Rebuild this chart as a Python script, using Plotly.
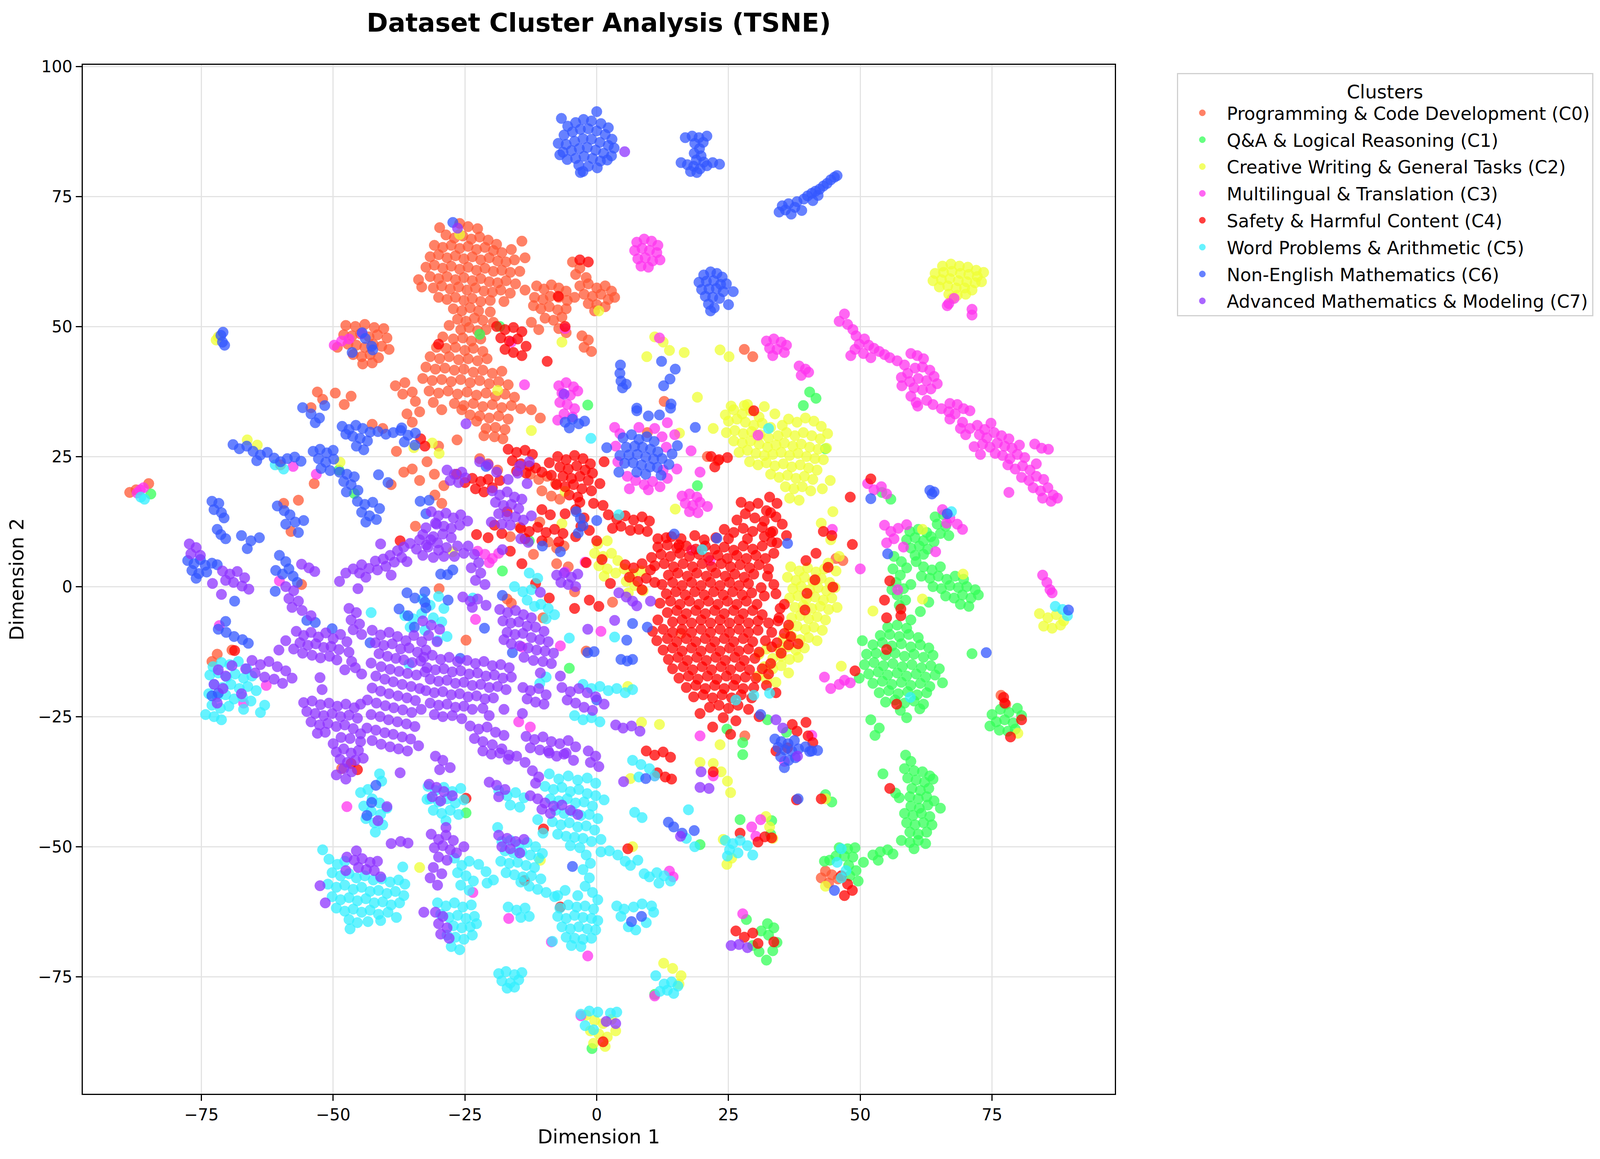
import plotly.graph_objects as go

cluster_names = [
    "Programming & Code Development (C0)",
    "Q&A & Logical Reasoning (C1)",
    "Creative Writing & General Tasks (C2)",
    "Multilingual & Translation (C3)",
    "Safety & Harmful Content (C4)",
    "Word Problems & Arithmetic (C5)",
    "Non-English Mathematics (C6)",
    "Advanced Mathematics & Modeling (C7)",
]
cluster_colors = ["#FF5733", "#33FF57", "#F0FF33", "#FF33F0", "#FF0000", "#33F0FF", "#3357FF", "#8E33FF"]

c0_pts = [
(-26.0,69.8),(-24.4,69.2),(-22.6,68.8),(-28.6,67.6),(-27.0,67.0),(-25.4,67.4),(-23.8,66.8),(-22.2,67.2),(-20.6,66.6),(-19.0,65.8),
(-30.8,65.6),(-29.2,65.2),(-27.6,65.6),(-26.0,65.0),(-24.4,65.4),(-22.8,64.8),(-21.2,65.2),(-19.6,64.6),(-18.0,64.2),(-16.2,64.8),
(-31.6,63.4),(-30.0,63.8),(-28.4,63.2),(-26.8,63.6),(-25.2,63.0),(-23.6,63.4),(-22.0,62.8),(-20.4,63.2),(-18.8,62.6),(-17.2,62.4),(-15.6,62.8),
(-32.4,61.4),(-30.8,61.8),(-29.2,61.2),(-27.6,61.6),(-26.0,61.0),(-24.4,61.4),(-22.8,60.8),(-21.2,61.2),(-19.6,60.6),(-18.0,60.8),(-16.4,60.4),(-14.6,60.6),
(-31.6,59.6),(-30.0,59.2),(-28.4,59.6),(-26.8,59.0),(-25.2,59.4),(-23.6,58.8),(-22.0,59.2),(-20.4,58.6),(-18.8,58.4),(-17.2,58.8),(-15.4,58.2),
(-33.2,57.6),(-31.0,57.4),(-29.4,57.8),(-27.8,57.2),(-26.2,57.6),(-24.6,57.0),(-23.0,57.4),(-21.4,56.8),(-19.8,56.6),(-18.2,57.0),(-16.4,56.4),(-13.6,57.0),
(-30.0,55.6),(-28.4,55.2),(-26.8,55.6),(-25.2,55.0),(-23.6,55.4),(-22.0,54.8),(-20.2,55.0),(-17.6,54.8),(-33.8,59.0),(-13.6,63.2),(-14.2,66.4),(-29.8,69.0),
(-27.2,53.4),(-25.6,53.0),(-24.0,53.6),(-22.4,53.0),(-20.2,52.8),(-26.4,51.4),(-24.8,51.0),(-23.2,51.6),(-21.6,51.2),(-19.6,50.8),
(-28.0,50.2),(-25.8,49.4),(-24.2,49.8),(-22.6,49.2),(-21.0,49.4),(-29.2,48.0),(-27.2,47.6),(-25.4,47.8),(-23.8,47.2),(-22.0,47.6),
(-30.4,46.0),(-28.6,45.8),(-26.8,46.0),(-25.0,45.4),(-23.4,45.8),(-21.6,45.2),(-31.6,44.2),(-29.8,43.8),(-28.0,44.2),(-26.2,43.6),(-24.4,43.8),(-22.6,43.4),(-20.8,43.8),
(-32.4,42.2),(-30.6,41.8),(-28.8,42.0),(-27.0,41.6),(-25.2,41.8),(-23.4,41.2),(-21.6,41.6),(-19.8,41.0),(-18.0,41.4),
(-33.0,40.0),(-31.2,39.6),(-29.4,39.8),(-27.6,39.4),(-25.8,39.8),(-24.0,39.2),(-22.2,39.6),(-20.4,39.0),(-18.6,39.4),(-16.8,38.8),
(-31.8,37.6),(-30.0,37.2),(-28.2,37.6),(-26.4,37.0),(-24.6,37.4),(-22.8,36.8),(-21.0,37.2),(-19.2,36.6),(-17.4,37.0),(-15.6,36.4),
(-27.0,35.2),(-25.2,34.8),(-23.4,35.2),(-21.6,34.6),(-19.8,35.0),(-18.0,34.4),(-16.2,34.8),(-14.4,34.2),(-22.2,32.8),(-20.4,32.4),(-18.6,32.8),(-16.8,32.2),
(-19.2,30.6),(-17.4,30.2),(-21.4,29.0),(-17.8,28.4),(-35.0,37.4),(-36.8,37.0),(-38.2,38.6),(-36.4,39.2),(-34.4,35.6),(-33.6,33.6),(-36.0,33.2),(-35.0,31.6),(-31.0,35.4),(-29.4,34.0),
(-25.6,34.0),(-24.0,33.0),(-22.8,31.8),(-21.0,30.4),(-19.4,28.8),(-26.5,28.2),(-12.4,34.0),(-10.7,32.4),(-22.2,24.6),(-20.6,23.6),(-18.8,22.4),
(-12.6,21.6),(-11.0,20.6),(-9.4,21.2),(-7.8,19.8),(-10.4,18.4),(-8.6,17.4),(-7.0,16.8),(-9.2,8.6),(-7.6,7.4),(-6.2,7.8),(-7.6,4.4),(-5.4,3.8),
(-17.0,-2.4),(-16.2,-3.2),(-24.8,-10.3),(-29.9,-0.4),(-30.7,17.6),(-29.4,16.0),(28.1,-28.7),
(-11.4,57.8),(-10.0,57.2),(-8.6,58.0),(-7.2,57.4),(-5.8,56.8),(-11.8,55.6),(-10.2,55.2),(-8.8,55.8),(-7.2,55.6),(-5.6,55.0),(-4.2,55.6),
(-10.6,53.4),(-9.0,53.8),(-7.4,53.2),(-5.8,53.4),(-9.8,51.6),(-8.2,51.2),(-6.6,51.8),(-7.2,49.6),(-5.8,48.8),(-12.4,50.8),(-11.0,49.4),(-12.0,54.0),
(-3.2,57.8),(-1.6,58.2),(0.0,57.4),(1.6,57.8),(2.8,56.8),(-2.4,56.2),(-0.8,55.8),(0.8,56.2),(2.2,55.2),(-1.6,54.4),(0.0,54.2),(1.6,53.8),(3.4,55.6),(-0.4,53.0),
(-2.8,48.2),(-1.6,47.4),(-2.4,46.0),(-1.0,45.2),(-4.6,62.4),(-3.2,61.2),(-4.0,60.0),(-2.0,59.4),
(-47.6,50.2),(-45.8,50.0),(-44.0,50.4),(-42.2,49.8),(-40.4,49.6),(-48.0,48.4),(-46.4,48.2),(-44.8,48.6),(-43.2,48.0),(-41.6,48.4),(-39.8,47.8),
(-47.2,46.6),(-45.6,46.4),(-44.0,46.0),(-42.4,46.6),(-40.8,46.2),(-39.4,45.6),(-46.2,44.6),(-44.6,44.2),(-43.0,44.6),(-41.4,44.0),(-44.4,42.8),(-42.6,43.0),(-49.2,46.0),
(-49.6,37.2),(-47.9,35.0),(-53.0,37.4),(-54.2,34.4),(-52.0,36.0),(-30.0,27.0),(-35.0,22.6),(-39.0,19.6),(-56.6,16.6),(-56.0,0.4),(-88.6,18.1),(-85.0,19.8),(-87.4,18.6),
(45.4,5.4),(46.7,5.0),(76.7,-20.9),(77.6,-22.6),(43.4,-54.7),(44.6,-55.4),(45.8,-56.2),(44.0,-57.0),(42.6,-56.0),(-60.0,23.4),(-46.6,36.6),(-40.6,30.4),(-42.6,31.2),
(-38.0,26.0),(-36.6,22.0),(-33.6,20.4),(-58.0,10.6),(-72.0,-13.0),(-73.0,-14.4),(-69.2,-12.2),(-59.4,16.0),(-53.6,19.8),(-48.4,-35.0),
(-32.2,24.0),(-30.8,21.6),(-29.0,19.4),(-34.4,11.6),(-10.8,12.4),(-14.6,11.4),(-16.4,9.6),(-12.0,6.2),(-4.2,-1.0),(-10.2,-6.0),(-2.0,-12.4),(3.0,-3.0),(16.0,-9.0),
(21.0,25.0),(23.0,24.2),(28.0,45.6),(29.6,44.2),(12.8,35.6),(9.6,29.6),
]

c1_pts = [
(55.2,-7.8),(57.0,-7.4),(58.8,-8.0),(53.8,-9.4),(55.6,-9.2),(57.4,-9.6),(59.2,-9.2),(61.0,-9.8),(52.4,-11.2),(54.2,-10.8),(56.0,-11.4),(57.8,-11.0),(59.6,-11.6),(61.4,-11.2),(63.0,-11.8),
(51.2,-13.0),(53.0,-12.8),(54.8,-13.2),(56.6,-12.8),(58.4,-13.4),(60.2,-13.0),(62.0,-13.6),(63.8,-13.2),(50.8,-15.0),(52.6,-14.6),(54.4,-15.2),(56.2,-14.8),(58.0,-15.4),(59.8,-15.0),(61.6,-15.6),(63.4,-15.2),(65.0,-15.8),
(51.6,-16.8),(53.4,-16.4),(55.2,-17.0),(57.0,-16.6),(58.8,-17.2),(60.6,-16.8),(62.4,-17.4),(64.2,-17.0),(52.4,-18.6),(54.2,-18.2),(56.0,-18.8),(57.8,-18.4),(59.6,-19.0),(61.4,-18.6),(63.2,-19.2),(65.6,-18.5),
(53.6,-20.4),(55.4,-20.0),(57.2,-20.6),(59.0,-20.2),(60.8,-20.8),(62.6,-20.4),(54.8,-22.2),(56.6,-21.8),(58.4,-22.4),(60.2,-22.0),(62.0,-22.6),(57.6,-23.8),(61.3,-23.5),(58.8,-25.2),(50.4,-10.4),(49.8,-17.6),
(56.4,5.8),(57.8,4.8),(56.2,3.4),(57.6,2.2),(58.8,3.6),(56.8,0.8),(58.2,-0.4),(57.0,-1.6),(58.6,-2.6),(57.4,-3.6),(59.6,0.4),(56.0,-0.6),
(59.4,10.6),(61.0,11.0),(62.6,10.4),(58.8,9.0),(60.4,9.4),(62.0,8.8),(63.4,9.6),(59.6,7.4),(61.2,7.8),(62.8,7.2),(60.4,6.0),(62.0,6.2),
(62.0,3.8),(63.6,3.2),(65.2,3.8),(61.6,2.0),(63.2,1.6),(64.8,2.0),(66.4,1.4),(68.0,2.0),(69.6,1.4),(63.8,0.0),(65.4,-0.4),(67.0,0.2),(68.6,-0.2),(70.2,0.0),(71.8,-0.6),
(66.2,-1.8),(67.8,-2.2),(69.4,-1.6),(71.0,-2.2),(72.4,-1.6),(69.0,-3.4),(70.6,-3.8),
(64.2,13.4),(65.8,13.8),(64.6,12.0),(66.2,11.6),(65.2,10.2),(66.8,9.8),(64.0,8.6),
(75.0,-24.6),(76.6,-23.6),(78.2,-24.2),(79.8,-23.4),(75.8,-26.0),(77.4,-25.6),(79.0,-26.2),(80.6,-24.8),(76.4,-27.6),(78.0,-27.8),(79.4,-27.4),(74.6,-26.8),
(52.0,-25.6),(53.6,-27.2),(52.8,-28.6),(71.2,-12.9),(55.8,16.8),(54.1,18.1),(60.6,4.8),(59.6,-6.4),(61.4,-4.8),(63.0,-3.0),
(58.6,-32.4),(59.6,-33.6),(58.4,-35.0),(60.2,-35.4),(61.8,-35.6),(63.2,-36.4),(59.0,-36.8),(60.6,-37.2),(62.2,-37.6),(63.8,-37.0),(59.8,-38.8),(61.4,-39.2),(63.0,-38.8),
(59.4,-40.4),(61.0,-40.8),(62.6,-40.4),(64.0,-41.2),(59.6,-42.2),(61.2,-42.6),(62.8,-42.0),(58.4,-43.6),(60.0,-44.0),(61.6,-43.6),(63.2,-44.2),(58.8,-45.4),(60.4,-45.8),(62.0,-45.4),(63.6,-45.8),
(59.4,-47.2),(61.0,-47.6),(62.6,-47.2),(57.8,-48.8),(59.4,-49.2),(61.0,-48.8),(62.4,-49.4),(60.2,-50.4),(54.3,-36.0),(56.7,-39.7),(57.4,-40.6),(65.2,-42.6),
(46.0,-50.2),(47.6,-50.4),(49.0,-50.2),(44.2,-52.6),(45.4,-51.8),(47.0,-51.8),(48.6,-52.0),(50.6,-53.0),(47.8,-53.6),(49.2,-54.6),(48.0,-55.6),(49.6,-56.6),(43.2,-52.8),
(52.4,-51.6),(53.8,-51.0),(55.2,-50.6),(56.2,-51.4),(53.4,-52.6),(43.4,-40.0),(44.6,-41.4),(33.2,-45.0),(33.0,-47.6),(32.4,-64.8),(33.6,-65.6),(32.6,-67.0),(34.2,-68.4),(33.4,-70.0),(32.2,-71.8),(30.8,-70.2),(31.2,-66.2),
(27.2,-44.8),(27.7,-32.3),(28.4,-64.0),(29.6,-69.0),(-0.9,-88.8),(11.0,-78.4),(-24.8,-43.5),(19.6,-49.6),(-17.9,3.0),(19.1,19.4),(27.7,-30.0),(24.7,-27.4),(-5.2,-15.7),(-12.8,8.8),
(-18.4,50.0),(-22.2,48.5),(-1.7,34.9),(43.4,26.5),(-46.0,17.9),(-48.9,22.4),(-84.6,17.8),(41.6,36.2),(40.4,37.4),(39.2,34.8),(32.4,-25.6),(36.0,-28.0),
]

c2_pts = [
(65.6,61.6),(67.2,62.0),(68.8,61.6),(70.4,61.4),(72.0,60.8),(64.2,60.2),(65.8,60.4),(67.4,60.6),(69.0,60.2),(70.6,60.0),(72.2,59.6),(73.4,60.4),(63.8,58.8),(65.4,59.0),(67.0,59.2),
(68.6,58.8),(70.2,58.6),(71.8,58.4),(73.0,58.6),(65.0,57.6),(66.6,57.8),(68.2,57.4),(69.8,57.4),(71.2,57.0),(66.8,56.2),(68.4,56.0),(70.0,56.2),(67.4,55.4),
(26.0,34.0),(27.6,33.2),(29.2,33.8),(30.8,32.6),(25.0,31.8),(26.6,32.2),(28.2,31.6),(29.8,31.0),(31.4,31.4),(33.0,30.6),(36.4,32.2),(38.0,31.6),(39.6,32.4),(41.2,31.8),(42.6,30.8),
(24.6,29.6),(26.2,30.0),(27.8,29.4),(29.4,29.8),(31.0,29.2),(32.6,28.6),(34.4,29.0),(36.0,29.6),(37.6,29.0),(39.2,29.6),(40.8,29.0),(42.4,28.4),(43.8,29.4),
(26.0,28.0),(27.6,27.6),(29.2,28.0),(30.8,27.4),(32.4,26.8),(34.0,27.2),(35.6,27.6),(37.2,27.0),(38.8,27.4),(40.4,26.8),(42.0,26.4),(43.6,26.6),
(27.0,25.8),(28.6,26.2),(30.2,25.6),(31.8,25.2),(33.4,25.4),(35.0,25.8),(36.6,25.2),(38.2,25.6),(39.8,25.0),(41.4,24.6),(43.0,24.4),
(29.0,24.0),(30.6,23.4),(32.2,23.8),(33.8,23.2),(35.4,23.6),(37.0,23.0),(38.6,23.4),(40.2,22.8),(41.8,22.4),(33.0,21.6),(34.6,21.0),(36.2,21.4),(37.8,20.8),(39.4,21.2),(41.0,20.6),
(35.8,19.2),(37.4,18.8),(39.0,19.2),(40.6,18.4),(42.8,18.8),(36.6,17.0),(38.4,16.6),(24.4,33.0),(28.6,35.0),(31.8,34.6),(33.8,33.2),(35.2,31.0),(22.1,30.4),(44.3,20.4),
(36.8,3.8),(38.4,3.0),(40.0,3.6),(41.6,2.8),(43.2,3.4),(36.2,1.8),(37.8,1.2),(39.4,1.8),(41.0,1.0),(42.6,1.6),(44.2,0.8),(37.2,-0.4),(38.8,0.0),(40.4,-0.6),(42.0,-0.2),(43.6,-0.8),(45.2,-0.2),
(36.6,-2.2),(38.2,-1.8),(39.8,-2.4),(41.4,-2.0),(43.0,-2.6),(44.6,-2.2),(37.6,-4.0),(39.2,-3.6),(40.8,-4.2),(42.4,-3.8),(44.0,-4.4),(45.6,-4.0),
(37.0,-6.0),(38.6,-5.6),(40.2,-6.2),(41.8,-5.8),(43.4,-6.4),(36.4,-8.0),(38.0,-7.6),(39.6,-8.2),(41.2,-7.8),(42.8,-8.4),(35.4,-10.0),(37.0,-9.6),(38.6,-10.2),(40.2,-9.8),(41.8,-10.4),
(34.6,-12.0),(36.2,-11.6),(37.8,-12.2),(39.4,-11.8),(33.4,-13.8),(35.0,-13.4),(36.6,-14.0),(38.2,-13.6),(31.8,-15.4),(33.4,-15.8),(35.0,-15.2),(36.4,-16.6),(30.6,-17.2),(32.2,-17.8),(34.0,-18.4),
(30.8,-13.0),(32.2,-12.0),(46.4,-15.3),(52.4,-4.7),(43.9,4.5),(45.4,3.0),(46.0,5.8),(44.4,9.0),(42.6,12.2),(44.8,14.4),
(-0.4,6.4),(1.2,5.8),(2.8,6.4),(4.0,5.0),(0.4,4.0),(2.0,3.4),(3.6,2.6),(5.2,3.4),(6.8,2.4),(8.4,3.0),(5.6,1.0),(7.2,0.2),(8.8,-0.8),(1.4,2.0),(0.2,8.2),(2.0,8.8),(6.0,-1.2),
(84.0,-5.2),(85.6,-6.0),(87.2,-5.4),(88.6,-6.6),(84.8,-7.6),(86.4,-8.0),(88.0,-7.4),
(-12.4,30.0),(15.7,29.5),(14.9,14.9),(-6.6,12.1),(-27.3,6.7),(-29.9,25.6),(-31.2,27.6),(-6.0,18.3),(5.9,-19.2),(8.5,-26.1),(23.4,-30.4),(11.9,-26.5),
(11.0,48.0),(12.6,47.0),(13.8,45.4),(16.6,45.0),(9.5,44.2),(19.1,36.4),(23.4,45.5),(25.1,44.2),(-6.6,47.0),(0.4,53.0),(-26.0,67.7),(-18.8,37.7),(25.5,34.7),(28.0,34.8),
(12.7,-72.4),(14.4,-73.4),(16.0,-74.8),(15.6,-76.4),(-2.0,-82.4),(-0.4,-83.4),(1.2,-84.0),(2.8,-83.2),(-1.2,-85.4),(0.4,-86.0),(2.0,-86.6),(3.6,-85.4),(-0.6,-87.8),(1.6,-88.4),
(22.1,-34.0),(23.6,-35.6),(24.8,-37.4),(25.4,-39.6),(24.0,-48.6),(25.6,-52.2),(24.7,-53.4),(6.4,-36.9),(-10.7,-52.6),(6.8,-50.0),(32.1,-44.2),(32.8,-46.2),(33.4,-48.4),
(43.4,-40.8),(43.4,-57.6),(61.8,11.0),(79.9,-28.2),(61.8,-2.4),(69.5,2.4),(-71.8,48.0),(-72.2,47.4),(-33.6,-54.0),(-66.3,28.2),(-64.4,27.2),(-48.7,23.9),(-34.7,26.7),(19.6,-33.8),
]

c3_pts = [
(47.0,52.4),(46.0,51.0),(47.6,50.4),(48.6,49.4),(49.2,48.2),(49.8,46.6),(50.8,47.6),(51.6,46.4),(52.6,45.8),(53.6,45.2),(54.6,44.6),(55.6,44.0),(49.0,45.6),(48.2,44.4),(50.6,44.8),(52.0,44.0),
(57.0,43.4),(58.4,42.6),(59.6,44.8),(60.8,44.4),(62.0,43.8),(59.0,41.0),(60.4,42.0),(61.8,42.2),(63.2,41.6),(57.8,40.2),(59.4,39.4),(61.0,40.0),(62.6,39.6),(64.0,40.4),
(60.2,38.2),(61.8,37.8),(63.4,38.0),(64.6,39.0),(59.6,36.6),(60.6,35.4),(62.6,35.8),(63.8,35.0),(67.0,35.2),(68.4,35.0),(69.6,34.2),(70.8,33.8),(66.8,33.6),(68.0,33.2),(57.9,38.6),
(32.2,47.2),(33.6,47.6),(35.0,47.0),(36.0,46.4),(32.8,45.8),(34.2,45.6),(35.6,45.0),(33.4,44.4),(38.4,42.4),(39.6,41.8),(38.8,40.6),(40.2,41.2),
(66.5,54.0),(67.8,55.4),(71.2,53.3),(71.2,52.2),(66.8,54.4),
(69.4,31.6),(70.8,30.4),(72.2,31.0),(73.6,30.2),(74.8,31.4),(72.6,29.2),(74.0,28.6),(75.4,29.6),(76.8,29.0),(78.2,28.4),(73.2,27.4),(74.6,26.8),(76.0,27.6),(77.4,27.0),(78.8,26.6),(80.2,27.2),
(75.6,25.6),(77.0,25.2),(78.4,24.6),(79.8,25.4),(81.2,24.8),(78.0,23.4),(79.4,22.6),(80.8,23.2),(82.2,22.4),(83.4,23.6),(80.6,21.0),(82.0,20.4),(83.4,21.2),(84.8,20.6),
(82.8,19.0),(84.2,18.4),(85.6,19.0),(86.6,17.6),(84.6,17.0),(86.2,16.4),(87.4,17.0),(83.1,27.4),(84.4,26.6),(85.7,26.4),(71.6,26.9),(72.8,25.4),(78.2,18.1),(69.0,30.4),(70.0,29.2),(65.4,34.2),(67.0,32.2),
(84.6,2.2),(85.4,0.8),(86.0,-0.6),(86.4,-1.2),(43.2,-17.4),(44.4,-19.6),(46.0,-18.8),(48.1,-18.5),(47.0,-18.0),
(54.6,11.8),(55.8,10.6),(56.4,9.2),(55.0,8.4),(57.2,11.2),(58.2,7.6),(58.8,11.9),(64.3,6.7),(65.6,14.8),(67.0,13.2),(68.4,12.0),(69.4,11.0),(66.4,12.2),
(51.4,19.8),(52.6,18.6),(54.0,19.2),(55.0,17.8),(60.9,34.7),(44.7,11.0),(50.0,3.4),(57.1,-0.6),
(7.6,66.2),(9.0,66.8),(10.4,66.4),(11.6,65.6),(7.2,64.6),(8.6,65.0),(10.0,64.6),(11.4,64.2),(12.0,62.8),(7.8,63.0),(9.2,63.2),(10.6,62.6),(8.4,61.6),(9.8,61.4),
(3.4,30.6),(4.4,29.4),(3.6,27.0),(4.0,24.0),(5.8,21.2),(7.4,20.4),(9.0,19.6),(10.6,20.2),(12.0,19.2),(13.4,20.8),(12.6,22.4),(13.2,26.8),(12.4,28.8),(11.0,30.4),(13.4,31.5),(14.8,29.2),(15.2,22.6),(8.0,30.6),(6.2,18.8),(9.8,18.6),
(16.2,17.4),(17.6,17.8),(19.0,17.2),(16.8,16.0),(18.2,15.6),(19.6,16.2),(21.0,15.4),(17.6,14.4),(19.2,14.2),(17.9,26.1),(19.6,22.0),(30.6,29.1),
(-22.6,6.8),(-21.2,6.2),(-19.8,5.4),(-18.6,6.4),(-20.4,4.6),(-2.2,4.7),(0.8,-8.6),(-23.0,-6.3),(-6.9,-11.4),(19.6,-28.7),(-6.0,2.8),
(-7.2,38.6),(-5.8,39.2),(-4.4,38.4),(-6.6,37.2),(-5.0,36.8),(-3.6,37.6),(-7.0,35.4),(-5.6,35.0),(-4.2,34.2),(-6.2,33.2),(-4.6,32.6),(-7.4,32.0),
(-13.7,38.8),(-6.0,49.6),(11.9,47.8),(-16.2,47.0),(-86.6,18.6),(-87.2,18.0),(-86.0,19.0),(-53.2,21.6),(-57.6,23.1),(-60.2,1.1),(-71.6,-7.5),(-62.7,-19.0),(-67.0,-22.4),
(-47.0,47.6),(-44.5,48.6),(-49.8,46.4),(-48.4,47.2),(13.8,-54.7),(14.5,-55.8),(22.1,-36.4),(31.1,-44.8),(-1.7,-71.0),(-3.0,-82.5),(-8.6,-68.3),(-23.5,-58.8),(-16.7,-63.8),
(11.0,-78.7),(27.7,-62.9),(11.0,-36.4),(-47.4,-42.3),(30.2,-48.0),(29.4,-46.2),(21.5,5.0),(18.0,7.0),(-14.2,-11.6),(-12.6,-27.0),(-14.8,-26.0),(35.6,-33.6),(40.8,-28.6),
]

c4_pts = [
(14.2,9.6),(16.0,9.2),(18.6,9.8),(20.4,9.0),(22.6,9.4),
(11.6,7.6),(13.4,8.0),(15.2,7.4),(17.0,7.8),(18.8,7.2),(20.6,7.8),(22.4,7.2),(24.2,7.6),(26.0,7.0),(27.8,7.8),(29.6,7.2),(31.4,7.8),(33.2,8.6),
(10.4,5.6),(12.2,6.2),(14.0,5.8),(15.8,6.4),(17.6,5.8),(19.4,6.2),(21.2,5.6),(23.0,6.0),(24.8,5.4),(26.6,6.0),(28.4,5.4),(30.2,6.0),(32.0,5.4),(33.6,6.4),
(11.0,4.0),(12.8,4.4),(14.6,3.8),(16.4,4.4),(18.2,3.8),(20.0,4.4),(21.8,3.8),(23.6,4.4),(25.4,3.8),(27.2,4.2),(29.0,3.6),(30.8,4.2),(32.6,3.4),
(13.6,2.2),(15.4,2.6),(17.2,2.0),(19.0,2.6),(20.8,2.0),(22.6,2.6),(24.4,2.0),(26.2,2.4),(28.0,1.8),(29.8,2.4),
(12.4,0.4),(14.4,0.8),(16.2,0.2),(18.0,0.8),(19.8,0.2),(21.6,0.8),(23.4,0.2),(25.2,0.8),(27.0,0.2),(28.8,0.6),(31.2,-0.2),
(13.2,-1.4),(15.0,-1.0),(16.8,-1.6),(18.6,-1.0),(20.4,-1.6),(22.2,-1.0),(24.0,-1.6),(25.8,-1.0),(27.6,-1.6),(29.4,-1.2),(31.8,-1.8),
(12.0,-3.2),(14.0,-2.8),(15.8,-3.4),(17.6,-2.8),(19.4,-3.4),(21.2,-2.8),(23.0,-3.4),(24.8,-2.8),(26.6,-3.4),(28.4,-2.8),(30.4,-3.4),
(13.4,-5.0),(15.2,-4.6),(17.0,-5.2),(18.8,-4.6),(20.6,-5.2),(22.4,-4.6),(24.2,-5.2),(26.0,-4.6),(27.8,-5.2),(29.6,-4.6),(31.4,-5.4),
(11.6,-6.4),(14.4,-6.8),(16.2,-6.4),(18.0,-7.0),(19.8,-6.4),(21.6,-7.0),(23.4,-6.4),(25.2,-7.0),(27.0,-6.4),(28.8,-7.0),(30.6,-6.6),(32.6,-7.0),(34.4,-6.6),
(10.6,-8.6),(12.6,-8.2),(14.4,-8.8),(16.2,-8.2),(18.0,-8.8),(19.8,-8.2),(21.6,-8.8),(23.4,-8.2),(25.2,-8.8),(27.0,-8.2),(28.8,-8.8),(30.6,-8.4),(33.2,-8.8),(35.6,-9.0),
(11.4,-10.4),(13.4,-10.0),(15.2,-10.6),(17.0,-10.0),(18.8,-10.6),(20.6,-10.0),(22.4,-10.6),(24.2,-10.0),(26.0,-10.6),(27.8,-10.0),(29.6,-10.6),(32.0,-10.4),(34.2,-10.8),(36.4,-11.2),
(12.6,-12.2),(14.4,-11.8),(16.2,-12.4),(18.0,-11.8),(19.8,-12.4),(21.6,-11.8),(23.4,-12.4),(25.2,-11.8),(27.0,-12.4),(28.8,-12.0),(30.8,-12.6),
(13.6,-14.0),(15.4,-13.6),(17.2,-14.2),(19.0,-13.6),(20.8,-14.2),(22.6,-13.6),(24.4,-14.2),(26.2,-13.6),(28.0,-14.2),(30.0,-13.8),
(14.4,-15.8),(16.4,-15.4),(18.2,-16.0),(20.0,-15.4),(21.8,-16.0),(23.6,-15.4),(25.4,-16.0),(27.2,-15.4),(29.0,-16.0),(31.4,-15.8),
(15.6,-17.6),(17.4,-17.2),(19.2,-17.8),(21.0,-17.2),(22.8,-17.8),(24.6,-17.2),(26.4,-17.8),(28.2,-17.4),(30.2,-17.6),
(17.0,-19.4),(18.8,-19.0),(20.6,-19.6),(22.4,-19.0),(24.2,-19.6),(26.0,-19.0),(27.8,-19.6),(29.8,-19.4),(32.2,-19.0),
(18.4,-21.2),(20.2,-20.8),(22.0,-21.4),(23.8,-20.8),(25.6,-21.4),(27.4,-20.8),(29.4,-21.4),(34.0,-20.4),
(21.4,-23.2),(23.2,-22.8),(25.0,-23.4),(26.8,-22.8),(28.8,-23.6),(19.6,-24.4),(24.0,-25.2),(26.4,-25.8),(30.8,-25.0),(22.0,-27.0),(25.4,-28.4),
(5.4,4.2),(7.0,3.6),(8.6,4.4),(10.2,3.2),(6.2,1.8),(7.8,1.0),(9.4,1.6),(11.0,0.8),(8.6,-0.6),(11.6,9.2),(13.2,9.4),(15.6,8.0),
(-7.4,25.0),(-5.8,24.4),(-4.2,25.2),(-2.6,24.6),(-1.2,23.6),(-7.0,23.0),(-5.4,22.6),(-3.8,23.2),(-2.2,22.4),(-0.8,21.8),(-6.4,21.2),(-4.8,20.8),(-3.2,21.2),(-1.6,20.4),
(-7.6,19.6),(-6.0,19.2),(-4.4,19.6),(-2.8,18.8),(-5.2,17.6),(-3.6,17.2),(-1.0,18.4),(0.6,19.8),(1.4,24.0),(-9.0,23.8),(-10.4,22.0),(-8.6,21.4),
(-16.8,26.4),(-15.2,25.8),(-13.6,26.2),(-12.2,25.4),(-16.0,24.2),(-14.4,23.6),(-12.8,23.2),(-15.2,22.2),(-13.4,21.8),(-11.6,22.8),
(-23.6,20.8),(-22.0,20.2),(-20.6,20.6),(-23.0,18.8),(-21.4,18.2),(-19.8,19.0),(-18.4,20.4),(-25.0,20.0),(-26.6,21.6),
(-14.4,11.2),(-12.8,10.6),(-11.2,11.4),(-9.6,10.4),(-8.0,11.0),(-6.4,10.2),(-13.6,9.2),(-10.4,8.8),(-7.2,8.6),(-4.0,9.6),(-3.0,11.6),(-2.4,13.2),(-1.4,10.8),(0.0,8.8),
(2.2,13.8),(3.8,13.0),(5.4,13.6),(7.0,12.8),(8.6,13.4),(10.0,12.6),(3.0,11.2),(4.6,11.6),(6.4,10.8),(8.0,11.0),(9.6,10.6),(1.2,15.6),(-0.6,16.0),
(-4.0,14.8),(-3.2,16.2),(-6.0,14.0),(-8.8,13.8),(-10.4,14.8),(-17.0,14.4),(-19.4,11.8),(-18.0,10.2),(-20.6,9.4),(-22.8,10.0),(-16.4,6.8),(-14.2,4.4),(-11.6,0.6),(-9.0,-2.2),
(-4.2,-4.2),(-1.4,-2.6),(0.4,-3.8),(2.6,0.6),(1.0,5.2),(-2.0,4.6),
(24.2,11.0),(26.0,10.4),(27.8,11.2),(29.6,10.6),(31.4,11.4),(33.0,10.4),(25.0,9.2),(28.6,9.2),(31.8,9.6),(34.2,8.4),
(21.7,25.0),(23.2,24.4),(24.8,24.8),(22.4,23.0),(27.4,16.2),(29.0,15.4),(30.6,16.0),(32.2,14.6),(28.2,14.0),(30.0,13.2),(31.8,12.6),(34.0,13.4),(26.6,12.8),
(-19.0,50.0),(-17.4,49.4),(-15.8,49.8),(-14.2,49.0),(-18.2,47.8),(-16.6,47.2),(-15.0,47.6),(-13.4,46.2),(-17.4,45.6),(-15.8,45.0),(-14.2,44.4),(-3.2,62.8),(-1.6,62.4),(-9.4,43.3),(-7.3,55.8),(-30.0,46.6),(29.8,33.8),(-6.0,50.0),
(9.4,-31.6),(11.0,-32.4),(12.6,-31.8),(14.0,-32.8),(11.5,-35.8),(13.0,-36.6),(14.2,-37.0),(-10.1,-46.6),(-13.7,-56.5),(-24.8,-40.7),(22.1,-35.6),(27.2,-47.4),(30.6,-49.1),(31.9,-48.1),
(26.4,-66.2),(28.0,-67.4),(29.6,-66.6),(30.6,-68.6),(1.2,-87.5),(5.9,-50.4),(-6.9,-61.6),(43.0,10.6),(44.6,9.8),(48.5,8.1),(41.6,6.4),(39.7,5.0),(41.4,1.3),(44.8,-0.1),(39.9,-1.3),(39.5,-4.5),
(34.0,-1.4),(34.8,-4.2),(43.9,3.7),(52.0,20.7),(48.1,17.2),(55.6,1.1),(54.6,-2.6),(55.0,-6.0),(57.7,-4.3),(57.7,-5.6),(49.0,-16.2),(55.0,-12.1),(56.9,-22.6),(77.2,-21.3),(77.4,-22.4),(80.6,-25.6),(78.5,-28.9),
(39.7,-26.1),(40.1,-28.7),(37.1,-26.5),(38.0,-27.8),(41.0,-30.0),(37.9,-41.0),(42.6,-40.8),(55.6,-38.8),(46.4,-55.6),(47.6,-57.2),(48.5,-58.4),(47.0,-59.4),(33.2,-48.3),(33.6,-68.3),
(-33.4,28.4),(-32.6,27.0),(-37.3,8.8),(-68.7,-12.3),(-45.4,-35.2),(-46.6,-34.0),
(32.8,17.2),(34.2,16.0),(33.0,14.2),(35.2,12.0),(33.4,10.6),(36.0,9.8),(32.4,2.0),(33.6,0.4),(34.6,-6.0),(36.4,-7.4),(33.2,-11.6),(35.0,-12.8),(33.0,-14.8),(32.6,-16.8),(35.6,-3.4),(38.2,-11.0),(36.8,-9.6),
(34.0,-31.6),(36.2,-31.0),
]

c5_pts = [
(-86.5,17.2),(-85.8,16.8),
(-72.8,-15.4),(-71.2,-14.6),(-69.6,-15.0),(-68.0,-14.4),(-66.4,-15.8),(-73.4,-17.0),(-71.8,-16.6),(-70.2,-17.4),(-68.6,-16.8),(-67.0,-17.6),(-65.4,-17.2),
(-72.6,-18.8),(-71.0,-19.4),(-69.4,-18.8),(-67.8,-19.6),(-66.2,-19.2),(-64.6,-20.0),(-73.6,-20.6),(-72.0,-21.2),(-70.4,-20.8),(-68.8,-21.6),(-67.2,-21.2),(-65.6,-22.0),
(-73.0,-22.8),(-71.4,-23.4),(-69.8,-23.0),(-67.0,-23.6),(-74.2,-24.6),(-72.6,-25.0),(-71.2,-25.6),(-63.0,-22.8),(-63.8,-24.2),
(-61.0,23.4),(-59.4,22.6),(-36.4,-5.6),(-34.8,-6.2),(-33.2,-5.2),(-35.4,-7.8),(-32.6,-8.4),(-35.6,-14.9),(-42.8,-5.0),(-33.0,-2.4),(-31.6,-3.6),(-30.0,-1.9),(-29.0,-4.2),(-31.0,-6.0),(-29.4,-6.8),(-28.4,-9.6),(-30.2,-10.4),
(-50.8,-52.4),(-49.2,-53.4),(-47.8,-52.8),(-50.2,-55.0),(-48.6,-55.6),(-47.0,-55.2),(-45.6,-56.0),(-44.0,-55.6),(-42.4,-56.4),(-40.8,-56.2),(-39.2,-56.8),(-37.6,-56.4),(-36.4,-57.2),
(-51.0,-57.2),(-49.4,-57.8),(-47.8,-57.4),(-46.2,-58.2),(-44.6,-57.8),(-43.0,-58.6),(-41.4,-58.4),(-39.8,-59.0),(-38.2,-58.6),(-36.6,-59.4),
(-50.2,-59.6),(-48.6,-60.2),(-47.0,-59.8),(-45.4,-60.4),(-43.8,-60.0),(-42.2,-60.8),(-40.6,-60.6),(-39.0,-61.2),(-37.4,-60.8),
(-49.4,-61.8),(-47.8,-62.4),(-46.2,-62.0),(-44.6,-62.6),(-43.0,-62.2),(-41.4,-63.0),(-39.6,-62.6),(-47.0,-64.0),(-45.4,-64.6),(-43.4,-64.4),(-41.0,-64.2),(-46.8,-65.8),(-38.0,-63.6),
(-52.0,-50.6),(-36.8,-53.9),(-32.2,-40.9),
(-44.8,-39.6),(-43.4,-39.0),(-42.6,-40.8),(-41.2,-41.6),(-44.2,-42.2),(-42.8,-43.2),(-41.0,-43.8),(-39.8,-42.6),(-43.8,-44.6),(-42.2,-45.4),(-40.6,-45.8),(-42.0,-47.2),(-40.8,-37.4),(-41.2,-36.0),
(-32.0,-38.4),(-30.6,-39.2),(-29.0,-38.6),(-27.4,-39.4),(-25.8,-38.8),(-31.6,-40.8),(-30.0,-41.4),(-28.4,-40.8),(-26.8,-41.6),(-25.2,-41.0),(-31.0,-43.0),(-29.4,-43.6),(-27.8,-43.0),(-26.2,-43.8),(-28.6,-45.0),
(-18.6,-39.2),(-17.0,-40.2),(-15.4,-39.6),(-13.8,-40.6),(-16.4,-42.0),(-14.6,-42.4),
(-18.0,-49.0),(-16.4,-48.8),(-14.8,-49.6),(-13.2,-49.2),(-11.6,-50.0),(-17.4,-50.8),(-15.8,-51.2),(-14.2,-51.0),(-12.6,-51.6),(-11.0,-52.2),
(-18.2,-52.8),(-16.6,-53.2),(-15.0,-53.0),(-13.4,-53.6),(-11.8,-54.0),(-17.2,-55.0),(-15.6,-55.4),(-14.0,-55.8),(-12.4,-55.6),(-10.6,-56.2),
(-22.4,-53.4),(-21.0,-54.8),(-19.6,-56.4),(-20.8,-57.0),(-27.0,-52.2),(-25.6,-53.6),(-24.2,-52.8),(-26.4,-55.0),(-24.8,-55.6),(-23.4,-56.6),(-25.8,-57.4),(-24.2,-58.4),
(-14.4,-56.8),(-12.8,-57.6),(-11.2,-58.2),(-9.6,-58.8),(-8.0,-59.6),(-16.8,-61.6),(-15.2,-62.2),(-13.6,-61.8),(-14.4,-63.6),(-12.8,-63.4),
(-30.2,-60.8),(-28.6,-61.4),(-27.0,-60.8),(-25.4,-61.6),(-23.8,-61.2),(-29.6,-63.0),(-28.0,-63.6),(-26.4,-63.2),(-24.8,-63.8),(-23.2,-63.4),
(-27.2,-65.2),(-25.6,-65.6),(-24.0,-65.4),(-22.8,-64.8),(-28.4,-67.0),(-26.8,-67.4),(-25.2,-67.8),(-27.6,-69.2),(-26.0,-69.8),(-23.6,-67.0),
(-9.0,-36.0),(-7.2,-37.0),(-5.4,-36.4),(-3.6,-37.2),(-1.8,-36.8),(-0.2,-37.8),(-9.8,-38.4),(-8.2,-39.0),(-6.6,-38.6),(-5.0,-39.4),(-3.4,-39.0),(-1.8,-39.8),(-0.2,-40.2),
(-8.8,-40.8),(-7.2,-41.2),(-5.6,-40.8),(-4.0,-41.6),(-2.4,-41.4),(-0.8,-42.2),(-7.8,-43.0),(-6.2,-43.6),(-4.6,-43.2),(-3.0,-44.0),(-1.4,-43.8),(0.2,-44.6),
(-8.4,-45.2),(-6.8,-45.8),(-5.2,-45.4),(-3.6,-46.2),(-2.0,-46.0),(-0.4,-46.8),(-7.4,-47.6),(-5.8,-48.0),(-4.2,-48.2),(-2.6,-48.4),(-1.0,-49.0),(-5.0,-49.8),(-3.2,-50.2),(0.8,-48.6),(1.4,-41.0),(-11.2,-44.8),(-10.2,-47.4),
(-2.0,-51.6),(-1.2,-53.2),(-2.6,-54.4),(-1.4,-56.0),(-2.2,-57.6),(-0.8,-58.8),(0.2,-60.2),(-3.6,-59.4),(0.8,-51.0),(2.4,-50.8),(4.0,-51.6),(5.4,-52.8),(6.4,-53.6),(7.8,-52.6),
(9.0,-55.2),(10.0,-55.8),(11.4,-55.0),(12.8,-55.6),(14.0,-56.6),(11.8,-57.0),
(-7.0,-61.8),(-5.4,-61.2),(-3.8,-61.6),(-2.2,-61.4),(-0.6,-62.0),(-7.4,-63.4),(-5.8,-63.8),(-4.2,-63.2),(-2.6,-63.6),(-1.0,-63.8),(0.2,-64.2),
(-6.6,-65.4),(-5.0,-65.8),(-3.4,-65.4),(-1.8,-65.8),(-0.2,-66.0),(-5.8,-67.4),(-4.2,-67.6),(-2.6,-67.8),(-1.0,-67.6),(-4.8,-69.0),(-3.0,-69.2),(-8.4,-68.2),(-7.4,-59.4),(-6.0,-58.4),
(3.8,-61.4),(5.2,-62.0),(7.0,-61.6),(8.6,-61.0),(10.4,-61.4),(4.6,-63.4),(6.0,-65.4),(7.4,-66.0),(9.4,-64.6),(10.8,-62.6),
(-18.6,-74.4),(-17.2,-74.0),(-15.6,-74.6),(-14.2,-74.2),(-18.0,-75.8),(-16.4,-76.2),(-14.8,-75.6),(-15.6,-77.0),(-17.0,-77.2),
(11.2,-74.8),(12.8,-76.4),(14.2,-76.0),(15.4,-76.8),(13.4,-77.6),(14.6,-78.2),(12.0,-77.8),
(-3.0,-82.2),(-1.4,-81.6),(0.2,-81.8),(-2.2,-84.4),(-0.6,-85.2),(2.6,-82.0),(3.8,-81.8),
(7.2,-43.4),(8.6,-44.4),(17.4,-42.9),(24.4,-48.8),(25.8,-49.4),(27.2,-48.8),(28.6,-49.8),(25.2,-50.6),(26.8,-51.2),(24.8,-51.8),(29.6,-51.6),(17.0,-48.4),(18.6,-50.0),(-18.8,-46.3),(-10.3,-51.3),
(6.8,-33.4),(8.4,-34.2),(10.0,-35.0),(11.0,-36.4),(8.0,-36.6),(46.4,-50.4),(45.6,-53.0),(47.3,-54.6),(46.4,-56.0),
(-15.6,0.0),(-14.0,-1.0),(-12.4,-0.6),(-13.2,-2.6),(-11.8,-3.8),(-10.6,-3.4),(-9.2,-4.2),(-8.0,-5.4),(-9.6,-6.2),(-12.8,2.6),(-11.2,1.6),
(-2.6,-18.8),(-1.0,-19.6),(0.6,-19.2),(2.2,-20.0),(3.8,-19.6),(5.4,-20.4),(6.8,-19.8),(-4.2,-24.8),(-2.6,-25.6),(-1.0,-25.2),(0.6,-26.0),
(-23.5,-2.2),(-5.2,-9.9),(3.4,-9.7),(4.2,13.8),(-1.1,28.5),(20.0,7.1),(26.4,-21.8),(29.8,-20.9),(32.8,-20.5),(-9.6,-17.4),(-10.8,-18.6),
(67.3,14.4),(87.0,-3.8),(88.4,-4.4),(89.3,-5.6),(59.5,-21.3),(32.6,30.4),
]

c6_pts = [
(-6.7,90.0),(0.0,91.3),(-5.5,88.5),(-4.0,89.2),(-2.5,89.8),(-1.0,89.5),(0.8,89.0),(2.2,88.2),(-6.2,86.8),(-4.6,87.4),(-3.1,87.9),(-1.6,88.0),(0.0,87.6),(1.6,86.9),(2.9,86.0),
(-7.3,85.2),(-5.8,85.0),(-4.2,85.6),(-2.6,86.1),(-1.0,86.0),(0.6,85.4),(2.2,84.8),(3.3,84.3),(-6.4,83.5),(-4.8,83.8),(-3.3,84.2),(-1.8,84.4),(-0.2,83.9),(1.3,83.3),(2.8,82.8),
(-5.6,82.1),(-4.0,82.3),(-2.4,82.7),(-0.8,82.3),(0.7,81.8),(2.0,82.0),(-3.4,81.0),(-1.6,80.8),(0.1,80.5),(-2.6,79.8),(-3.1,79.6),(-7.0,83.0),
(16.8,86.3),(18.1,86.6),(19.4,86.3),(20.9,86.6),(20.2,85.4),(18.6,85.2),(19.5,84.2),(18.5,83.3),(19.8,82.8),(18.9,82.0),(20.3,81.6),(16.0,81.5),(17.2,81.1),(18.4,80.8),(19.6,80.3),(20.9,80.9),(22.0,81.5),(23.3,81.2),(17.8,79.8),(19.0,79.6),
(34.6,72.0),(35.2,73.2),(35.8,72.4),(36.4,73.6),(36.9,71.6),(37.6,72.9),(38.0,74.0),(38.9,72.3),(39.3,74.5),(40.0,75.1),(40.8,75.6),(41.5,76.0),(41.0,74.2),(42.3,76.4),(43.0,77.0),(43.7,77.5),(44.4,78.2),(45.1,78.7),(45.6,79.0),(42.0,75.2),
(20.3,59.9),(21.6,60.5),(22.8,60.2),(23.8,59.5),(19.4,58.5),(20.8,58.7),(22.2,58.8),(23.5,58.1),(24.6,58.2),(19.9,57.1),(21.3,57.2),(22.7,57.3),(24.0,56.7),(20.6,55.8),(22.0,55.6),(23.3,55.4),(21.2,54.3),(22.3,53.6),(25.9,56.7),(25.0,54.2),(21.6,53.0),
(5.0,28.6),(6.6,29.2),(8.0,28.3),(9.5,28.8),(10.9,27.9),(5.6,26.8),(7.2,27.0),(8.7,26.8),(10.2,26.4),(11.6,25.9),(4.4,25.2),(6.1,25.3),(7.7,25.4),(9.3,24.9),(10.8,24.5),(12.4,24.6),
(5.3,23.7),(6.9,23.8),(8.5,23.4),(10.1,23.0),(11.5,22.9),(13.7,23.5),(7.6,22.0),(9.3,21.6),(14.3,25.5),(4.2,22.0),(12.2,21.4),
(4.5,42.6),(4.4,41.0),(4.6,39.5),(4.9,38.2),(5.6,38.9),(12.3,43.3),(14.9,41.8),(12.7,38.6),(13.9,39.9),(14.1,35.1),(7.6,34.3),(-6.0,31.6),(-4.6,32.2),(-3.4,31.3),(-5.2,30.5),(-2.3,31.8),
(7.6,33.8),(9.8,32.8),(11.9,33.0),(14.0,34.3),(18.7,30.6),(1.9,26.7),(15.3,27.1),(-3.9,14.4),(-3.1,13.1),(-2.6,11.7),(0.0,12.7),(-3.5,10.3),(-6.9,6.7),(-10.3,7.8),(-21.0,23.1),(-31.8,16.6),
(-29.6,2.4),(-28.3,2.3),(-27.3,3.2),(-32.6,-1.0),(-32.4,-4.1),(-28.2,-2.6),(-17.9,-1.7),(-21.3,-8.0),(-16.0,-12.7),(6.8,-7.1),(9.6,-7.8),(5.7,-10.3),(-1.7,-12.7),(-0.5,-12.5),(0.0,-21.8),
(4.6,-14.0),(5.8,-14.3),(6.8,-14.0),(14.7,10.1),(22.8,9.3),(31.1,-24.6),(-25.9,-13.8),
(33.8,-29.3),(35.0,-29.8),(36.3,-30.2),(37.5,-29.6),(34.4,-30.9),(35.7,-31.4),(37.0,-31.6),(38.3,-31.2),(39.6,-30.8),(40.8,-31.6),(34.9,-32.7),(36.4,-33.4),(37.7,-32.9),(35.6,-34.8),(38.2,-40.8),(40.4,-31.7),(41.9,-31.5),
(45.1,-58.4),(36.2,8.3),(55.2,6.3),(63.2,18.5),(64.0,18.2),(63.6,17.8),(66.5,14.0),(52.0,16.9),(89.5,-4.5),(73.9,-12.7),
(-4.6,-53.8),(6.6,-64.4),(8.5,-63.4),(13.6,-45.3),(14.6,-46.2),(16.2,-47.4),(18.5,-46.9),(9.3,-36.9),(-43.6,-44.0),(-42.7,-41.5),(-41.9,-38.2),
(-69.0,27.3),(-67.8,26.5),(-66.4,27.0),(-65.2,26.0),(-63.8,25.3),(-62.5,25.8),(-61.2,24.7),(-60.0,24.0),(-58.7,24.6),(-57.3,24.9),(-56.1,24.1),(-64.5,24.2),
(-53.8,26.0),(-52.5,26.4),(-51.2,25.7),(-50.0,26.2),(-52.8,24.6),(-51.4,23.9),(-49.9,24.5),(-52.3,22.7),(-50.6,22.3),
(-48.3,30.8),(-47.0,30.2),(-45.7,31.0),(-44.4,30.4),(-43.0,29.7),(-46.3,28.9),(-44.9,28.5),(-43.5,28.0),(-47.6,29.3),(-45.6,27.0),(-44.2,26.3),(-41.5,29.8),(-40.0,29.3),(-38.6,29.6),(-37.2,30.0),(-35.8,29.1),(-34.4,29.5),(-36.5,27.8),
(-48.8,22.0),(-47.4,21.6),(-46.0,21.1),(-48.0,20.2),(-46.6,19.6),(-45.3,18.5),(-47.5,18.2),(-41.4,21.5),(-39.6,20.0),
(-45.4,16.4),(-44.0,15.8),(-42.5,16.2),(-41.2,15.0),(-44.6,14.3),(-43.1,13.6),(-41.8,12.9),(-43.8,12.4),
(-73.0,16.4),(-71.7,16.0),(-72.6,14.8),(-71.2,14.2),(-70.7,13.2),(-72.0,11.0),(-70.4,9.2),(-71.3,10.0),
(-60.6,15.5),(-59.3,14.6),(-58.2,13.8),(-57.2,12.4),(-59.0,12.0),(-56.6,10.4),(-55.6,12.7),(-67.4,9.8),(-65.6,8.8),(-64.0,9.4),(-66.3,7.3),
(-77.6,5.0),(-76.4,4.4),(-75.2,5.2),(-74.3,4.1),(-76.8,3.1),(-75.5,2.5),(-74.0,2.8),(-73.0,4.5),(-72.0,4.2),(-76.0,1.6),
(-60.2,6.0),(-59.0,4.8),(-58.4,3.4),(-57.6,2.0),(-59.6,2.4),(-56.8,0.8),(-60.9,3.1),
(-70.4,-6.7),(-71.8,-8.2),(-70.3,-8.8),(-68.8,-9.6),(-67.2,-10.2),(-66.1,-10.9),(-68.7,-2.8),(-61.0,-0.9),
(-55.0,-6.5),(-53.4,-6.9),(-50.2,-8.1),(-43.0,-10.8),(-36.0,-1.2),(-34.5,-2.2),(-32.6,-3.0),(-37.5,-4.3),(-35.8,-5.6),(-34.6,-7.8),(-73.0,-21.0),(-71.8,-20.5),
(-37.0,30.5),(-34.5,27.2),(-33.5,16.4),(-32.4,14.0),(-55.8,34.4),(-54.2,33.2),(-52.6,32.4),(-51.6,34.8),(-53.4,31.5),
(-71.3,48.3),(-71.0,47.0),(-70.6,46.4),(-70.9,48.9),(-44.5,48.8),(-43.9,47.7),(-42.7,46.2),(-42.5,45.5),(-46.4,45.0),(-27.3,70.0),
]

c7_pts = [
(-71.0,3.0),(-69.6,2.4),(-68.2,2.9),(-66.8,1.7),(-70.4,1.2),(-68.9,0.8),(-67.3,0.1),(-66.0,-0.5),(-72.9,0.6),(-71.2,-1.5),
(-59.0,0.0),(-57.5,-0.8),(-58.4,-2.3),(-56.6,-2.8),(-57.8,-4.0),(-55.9,-4.6),(-54.2,-5.6),(-56.0,4.3),(-54.6,3.6),(-53.5,2.9),(-77.3,8.2),(-76.0,7.5),(-77.0,6.3),(-75.2,6.0),
(-47.6,2.6),(-46.2,3.4),(-45.0,2.6),(-44.6,4.2),(-43.2,3.5),(-42.0,4.9),(-41.6,3.2),(-40.5,5.3),(-39.2,6.0),(-40.0,3.9),(-38.4,4.7),(-37.8,6.9),(-36.6,7.6),(-37.0,5.6),(-35.4,8.3),
(-34.2,7.2),(-33.6,9.0),(-32.3,8.0),(-31.0,9.6),(-30.2,8.4),(-29.2,10.1),(-28.5,7.5),(-33.0,6.0),(-36.0,4.8),(-43.8,1.8),(-39.0,2.2),(-48.8,1.0),(-41.0,8.2),(-45.3,-0.4),
(-27.6,9.4),(-26.4,7.8),(-25.2,6.4),(-27.0,5.8),(-32.4,11.3),(-30.4,12.0),
(-57.0,-8.6),(-55.6,-9.4),(-54.2,-8.8),(-52.8,-9.7),(-51.4,-8.9),(-50.0,-10.0),(-48.6,-9.2),(-47.4,-10.6),(-56.3,-10.8),(-54.8,-11.3),(-53.3,-11.0),(-51.8,-11.7),(-50.4,-11.5),(-48.9,-12.1),(-47.0,-12.6),
(-55.8,-12.8),(-54.0,-13.2),(-52.4,-13.7),(-50.7,-13.4),(-49.3,-14.1),(-46.5,-14.4),(-57.5,-12.0),(-59.0,-10.4),(-60.3,-12.2),
(-47.0,-4.2),(-45.6,-5.0),(-46.6,-6.4),(-45.0,-7.2),(-46.2,-8.3),(-44.6,-9.2),(-45.8,-15.6),(-44.6,-16.8),(-47.8,-16.0),
(-42.6,-8.4),(-41.0,-9.3),(-39.4,-8.8),(-37.8,-9.6),(-36.2,-10.4),(-34.7,-9.4),(-33.2,-10.6),(-42.0,-10.8),(-40.4,-11.3),(-38.8,-11.0),(-37.2,-12.0),(-35.6,-11.8),(-34.0,-12.6),(-32.4,-12.2),
(-41.3,-12.9),(-39.7,-13.4),(-38.1,-13.8),(-36.6,-14.1),(-35.0,-14.6),(-33.4,-14.3),(-42.8,-14.7),(-40.9,-15.4),(-39.2,-15.9),(-37.5,-16.3),(-35.9,-16.7),(-34.2,-17.0),(-32.6,-16.4),
(-41.9,-17.2),(-40.2,-17.8),(-38.6,-18.3),(-36.9,-18.8),(-35.2,-19.2),(-33.6,-19.6),(-42.6,-19.5),(-41.0,-20.1),(-39.4,-20.6),(-37.7,-21.0),(-36.0,-21.4),(-34.4,-21.9),
(-43.5,-21.8),(-41.8,-22.4),(-40.1,-22.9),(-38.5,-23.3),(-36.8,-23.7),(-35.1,-24.2),(-33.3,-23.6),(-42.8,-24.6),(-41.1,-25.0),(-39.5,-25.6),(-37.8,-26.0),(-36.1,-26.4),(-34.5,-26.9),
(-43.6,-27.2),(-41.9,-27.6),(-40.2,-28.1),(-38.6,-28.4),(-36.9,-28.9),(-35.3,-29.3),(-42.6,-29.6),(-40.9,-30.3),(-39.2,-30.8),(-37.6,-31.2),(-35.9,-31.6),(-33.8,-30.6),
(-55.6,-22.3),(-54.0,-22.0),(-52.4,-22.7),(-50.8,-22.4),(-49.2,-23.0),(-47.6,-22.6),(-46.0,-23.3),(-44.8,-22.6),(-55.0,-24.0),(-53.4,-24.4),(-51.8,-24.8),(-50.2,-24.4),(-48.6,-25.0),(-47.0,-24.7),(-45.4,-25.3),
(-54.2,-26.0),(-52.6,-26.6),(-51.0,-26.3),(-49.4,-26.9),(-47.8,-26.6),(-46.2,-27.3),(-44.8,-28.3),(-53.0,-28.2),(-51.5,-28.0),
(-49.4,-31.8),(-48.0,-31.2),(-46.6,-32.0),(-45.2,-31.5),(-48.7,-33.2),(-47.3,-33.8),(-45.8,-33.4),(-44.3,-33.0),(-48.0,-35.0),(-46.5,-35.6),(-49.4,-36.2),(-47.6,-37.0),(-44.8,-29.8),(-46.8,-29.2),(-48.5,-29.0),(-50.0,-30.2),
(-37.3,-35.8),(-65.4,-14.2),(-63.8,-15.0),(-62.2,-14.4),(-60.6,-15.4),(-59.0,-16.2),(-66.6,-15.8),(-64.8,-16.6),(-63.0,-17.4),(-61.2,-17.8),(-59.6,-18.6),(-57.8,-17.6),(-52.5,-17.5),(-52.1,-19.8),
(-71.8,-16.0),(-70.4,-17.2),(-72.6,-18.8),(-70.9,-19.6),(-69.2,-15.2),(-67.4,-20.6),(-72.0,-22.4),
(-47.4,-52.0),(-46.0,-52.6),(-44.5,-52.3),(-43.0,-53.0),(-41.6,-52.8),(-45.2,-54.0),(-43.7,-54.4),(-42.2,-54.6),(-41.0,-55.8),(-47.6,-54.6),(-45.6,-50.8),(-52.5,-57.5),(-51.5,-60.8),
(-39.0,-49.4),(-37.2,-49.0),(-35.8,-49.3),(-39.8,-42.3),(-41.5,-45.0),(-32.8,-62.6),
(-28.4,22.4),(-27.0,21.6),(-25.6,22.0),(-27.8,20.4),(-26.2,20.0),(-24.9,20.9),
(-31.4,14.4),(-30.0,13.6),(-28.6,14.1),(-27.2,13.2),(-25.8,13.8),(-24.5,12.6),(-30.6,12.2),(-29.0,11.6),(-27.6,11.2),(-26.0,11.8),
(-33.0,10.0),(-31.5,9.0),(-30.0,7.0),(-32.0,7.6),(-29.0,5.8),(-31.0,5.6),(-24.4,7.8),(-23.2,6.2),(-22.4,4.6),(-23.8,3.6),(-22.0,2.6),(-23.0,1.2),(-21.2,0.4),
(-19.8,18.4),(-18.4,17.6),(-17.0,18.2),(-15.6,17.2),(-14.2,16.8),(-19.2,16.2),(-17.7,15.6),(-16.2,15.8),(-14.8,15.0),(-18.6,14.0),(-17.0,13.6),(-15.4,13.4),(-13.9,12.8),(-16.4,11.8),(-18.0,12.0),(-20.0,12.4),
(-22.2,24.0),(-20.6,23.4),(-19.0,22.0),(-16.8,20.6),(-15.0,21.8),(-13.2,19.8),(-12.8,24.0),(-14.6,23.2),(-14.4,9.2),(-13.0,8.5),
(-7.6,2.2),(-6.2,2.6),(-4.8,1.8),(-3.6,2.4),(-6.8,0.8),(-5.4,0.4),(-4.0,0.0),(-25.4,-2.0),(-24.0,-2.8),(-22.6,-2.4),(-21.0,-3.6),(-23.6,-4.0),
(-18.4,-4.4),(-16.9,-5.0),(-15.4,-4.6),(-13.9,-5.4),(-12.4,-6.0),(-17.8,-6.6),(-16.3,-7.0),(-14.8,-6.8),(-13.2,-7.6),(-11.6,-7.8),(-10.0,-8.6),
(-17.0,-8.8),(-15.5,-9.2),(-14.0,-9.0),(-12.4,-9.8),(-10.8,-10.2),(-9.2,-10.6),(-16.2,-11.0),(-14.6,-11.4),(-13.0,-11.8),(-11.4,-12.2),(-9.8,-12.4),(-8.2,-12.8),
(-13.8,-13.6),(-12.0,-14.2),(-10.2,-14.4),(-8.6,-14.8),(-17.6,-10.2),
(-33.0,-6.6),(-31.4,-7.4),(-29.8,-8.2),(-31.9,-9.4),(-30.3,-10.6),
(-32.8,-13.6),(-31.2,-13.2),(-29.6,-14.0),(-28.0,-13.6),(-26.4,-14.4),(-24.6,-14.2),(-23.0,-14.8),(-21.4,-14.4),(-19.8,-15.2),(-18.2,-15.0),(-16.6,-15.6),
(-32.2,-15.6),(-30.6,-16.0),(-29.0,-15.8),(-27.4,-16.4),(-25.8,-16.2),(-24.2,-16.8),(-22.6,-16.6),(-21.0,-17.2),(-19.4,-17.0),(-17.8,-17.6),(-16.2,-17.4),
(-31.6,-17.8),(-30.0,-18.2),(-28.4,-18.0),(-26.8,-18.6),(-25.2,-18.4),(-23.6,-19.0),(-22.0,-18.8),(-20.4,-19.4),(-18.8,-19.2),(-17.2,-19.8),
(-32.4,-20.0),(-30.8,-20.4),(-29.2,-20.2),(-27.6,-20.8),(-26.0,-20.6),(-24.4,-21.2),(-22.8,-21.0),(-21.2,-21.6),(-19.6,-21.4),
(-31.6,-22.4),(-30.0,-22.8),(-28.4,-22.6),(-26.8,-23.2),(-25.2,-23.0),(-23.6,-23.6),(-21.6,-23.4),(-30.8,-24.6),(-29.2,-25.0),(-27.4,-24.8),(-25.6,-25.4),(-20.4,-24.8),(-17.6,-23.6),
(-14.0,-19.4),(-12.6,-20.0),(-11.0,-19.6),(-9.6,-20.8),(-13.2,-21.6),(-11.6,-22.2),(-10.0,-22.6),
(-6.6,-19.4),(-5.0,-20.2),(-3.4,-19.6),(-1.8,-20.4),(-0.2,-21.2),(1.4,-22.6),(-5.6,-21.8),(-4.0,-22.4),(-2.4,-23.2),(-0.8,-23.8),
(3.6,-26.6),(5.0,-27.2),(6.6,-26.8),(8.2,-27.8),
(4.2,-1.2),(5.6,-2.0),(6.8,-2.8),(7.6,-3.7),(10.2,-2.8),(3.4,-6.5),(-1.7,-8.2),(-6.9,-17.2),(-14.1,-24.4),(-24.8,31.3),(-12.4,13.6),(-10.7,-1.1),(-10.7,-16.6),(-17.9,7.1),
(-24.0,-26.8),(-22.4,-27.4),(-20.8,-27.0),(-19.2,-28.0),(-17.6,-28.6),(-23.2,-29.2),(-21.6,-29.8),(-19.8,-30.4),(-18.0,-31.2),(-16.6,-32.4),
(-13.4,-28.8),(-11.8,-29.4),(-10.2,-28.9),(-8.6,-29.8),(-7.0,-30.2),(-5.4,-29.6),(-4.0,-30.8),(-12.6,-31.0),(-10.8,-31.4),(-9.0,-32.0),(-6.2,-32.2),
(-30.6,-32.6),(-29.2,-33.4),(-27.8,-34.8),(-29.8,-35.2),(-31.8,-38.0),(-30.4,-38.6),(-29.0,-39.4),(-27.4,-40.2),(-31.2,-40.4),(-29.6,-41.2),
(-20.4,-37.6),(-19.0,-38.2),(-17.4,-39.0),(-18.6,-40.4),(-21.6,-31.6),(-20.0,-32.2),(-18.4,-32.0),(-16.8,-33.2),(-15.2,-32.6),(-13.6,-33.8),
(-12.6,-40.2),(-11.2,-40.8),(-9.8,-41.6),(-8.2,-42.2),(-6.6,-42.0),(-5.0,-43.0),(-3.6,-43.8),(-10.4,-42.8),(-8.8,-43.6),(-12.2,-35.4),(-11.0,-36.6),(-11.6,-37.8),
(-9.2,-31.6),(-7.6,-32.6),(-5.8,-32.0),(-4.4,-33.4),
(-31.4,-47.6),(-30.0,-48.6),(-28.6,-47.8),(-27.2,-48.8),(-30.8,-50.2),(-29.2,-49.8),(-27.8,-50.6),(-30.0,-52.0),(-28.4,-52.6),(-26.6,-51.2),(-31.0,-54.0),(-29.4,-55.2),(-30.2,-57.4),(-31.6,-56.0),(-25.2,-50.0),(-28.6,-46.3),
(-30.6,-62.6),(-29.2,-63.4),(-30.0,-64.8),(-28.4,-65.6),(-29.6,-66.8),(-28.0,-67.6),
(-18.6,-47.8),(-17.0,-48.4),(-15.4,-49.0),(-13.8,-48.6),(-16.4,-50.4),(-14.6,-51.2),(-18.0,-50.0),
(-1.6,-31.6),(-0.2,-32.6),(0.4,-34.6),(-1.2,-33.8),
(1.8,-83.6),(3.6,-84.0),(5.1,-37.5),(19.8,-35.6),(19.6,-38.6),(21.3,-38.8),(15.9,-48.0),(25.5,-69.0),(27.0,-68.8),(28.6,-69.4),(34.0,-25.6),(35.3,-27.2),(38.1,-32.6),
(5.3,83.6),(-26.4,68.9),(-6.2,37.0),
]

all_points = [c0_pts, c1_pts, c2_pts, c3_pts, c4_pts, c5_pts, c6_pts, c7_pts]

fig = go.Figure()
for i, (name, color, pts) in enumerate(zip(cluster_names, cluster_colors, all_points)):
    fig.add_trace(go.Scatter(
        x=[p[0] for p in pts],
        y=[p[1] for p in pts],
        mode="markers",
        name=name,
        legendgroup=f"g{i}",
        marker=dict(size=27, color=color, opacity=0.75,
                    line=dict(width=1, color=color)),
    ))

font_family = "DejaVu Sans"
axis_common = dict(
    showgrid=True, gridcolor="#e3e3e3", gridwidth=3,
    zeroline=False,
    showline=True, linecolor="black", linewidth=3, mirror=True,
    ticks="outside", ticklen=15, tickwidth=3, tickcolor="black",
    tickfont=dict(size=42, color="black", family=font_family),
    dtick=25, tick0=0,
    ticklabelstandoff=0,
)

# the page body adds an 8px offset; margins compensate so the plot frame sits where the reference has it
fig.update_layout(
    width=4132, height=2968,
    margin=dict(l=204, r=1286, t=158, b=175),
    paper_bgcolor="white", plot_bgcolor="white",
    font=dict(family=font_family, color="black"),
    title=dict(text="<b>Dataset Cluster Analysis (TSNE)</b>", x=0.5, xref="paper",
               y=1 - 50 / 2968, yref="container", yanchor="middle", xanchor="center",
               font=dict(size=66, family=font_family, color="black")),
    xaxis=dict(range=[-97.5, 98.3], title=dict(text="Dimension 1", font=dict(size=50), standoff=15), **axis_common),
    yaxis=dict(range=[-97.5, 100.3], title=dict(text="Dimension 2", font=dict(size=50), standoff=21), **axis_common),
    legend=dict(
        x=1.06, y=0.992, xanchor="left", yanchor="top",
        bgcolor="white", bordercolor="#d0d0d0", borderwidth=3,
        font=dict(size=46, family=font_family, color="black"),
        title=dict(text="Clusters", font=dict(size=48, family=font_family), side="top center"),
        tracegroupgap=6, itemsizing="trace", itemwidth=115,
    ),
    showlegend=True,
)

fig.write_html("out.html")
